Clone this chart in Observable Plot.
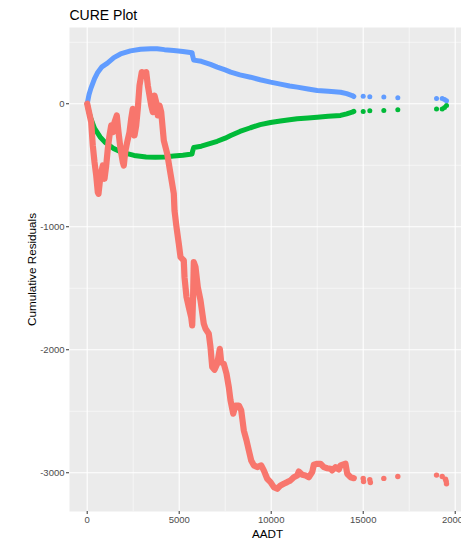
<!DOCTYPE html>
<html>
<head>
<meta charset="utf-8">
<script src="https://cdn.jsdelivr.net/npm/d3@7"></script>
<script src="https://cdn.jsdelivr.net/npm/@observablehq/plot@0.6"></script>
<style>
  html, body { margin: 0; padding: 0; background: #fff; overflow: hidden; }
  #chart { width: 461px; height: 542px; overflow: hidden; }
</style>
</head>
<body>
<div id="chart"></div>
<script>
// CURE plot: cumulative residuals of the model ordered by AADT, with the ±2σ bounds.

// Cumulative residuals, [AADT, cumulative residual] (dense stretch drawn as a path)
const residualPath = [
  [0,0],[217,-150],[304,-339],[397,-475],[489,-583],[576,-719],[614,-732],[723,-583],
  [848,-502],[940,-610],[1033,-502],[1120,-366],[1212,-258],[1304,-176],[1391,-231],
  [1484,-150],[1609,-95],[1701,-231],[1810,-366],[1935,-475],[1989,-502],[2065,-393],
  [2174,-312],[2299,-231],[2391,-122],[2478,-41],[2571,-258],[2663,-176],[2750,-41],
  [2842,149],[2967,257],[3087,250],[3207,257],[3294,149],[3386,67],[3478,-14],[3565,-68],
  [3658,67],[3750,13],[3837,-95],[3930,-14],[4022,-68],[4163,-298],[4348,-407],[4527,-569],
  [4707,-732],[4745,-868],[4853,-1003],[4978,-1138],[5071,-1247],[5250,-1274],[5288,-1410],
  [5397,-1572],[5522,-1654],[5652,-1735],[5707,-1802],[5750,-1599],[5794,-1288],[5886,-1328],
  [6011,-1491],[6158,-1599],[6337,-1789],[6430,-1829],[6609,-1870],[6701,-1979],[6794,-2141],
  [6919,-2163],[7066,-2114],[7207,-1992],[7283,-2101],[7424,-2114],[7571,-2195],[7696,-2304],
  [7788,-2412],[7935,-2520],[8060,-2453],[8240,-2453],[8370,-2493],[8511,-2656],[8658,-2737],
  [8783,-2818],[8913,-2900],[9055,-2940],[9240,-2954],[9457,-2940],[9598,-2981],[9783,-3049],
  [9962,-3076],[10142,-3117],[10327,-3130],[10506,-3103],[10685,-3089],[10870,-3076],
  [11049,-3062],[11229,-3036],[11414,-3022],[11501,-2990],[11685,-3016],[11865,-3022],
  [12044,-3036],[12229,-2995],[12316,-2935],[12500,-2927],[12680,-2927],[12859,-2954],
  [13044,-2963],[13223,-2968],[13316,-2981],[13495,-2954],[13675,-2973],[13767,-2940],
  [14038,-2927],[14131,-3008],[14310,-3036],[14490,-3044]
];
// Sparse high-AADT sites, drawn as single points
const residualTail = [
  [15000,-3046],[15020,-3071],[15359,-3057],[15390,-3079],[16120,-3046],[16881,-3030],
  [18985,-3019],[19294,-3030],[19473,-3052],[19510,-3070],[19527,-3090]
];

// Upper bound (+2σ)
const upperPath = [
  [0,0],[100,75],[200,125],[400,205],[550,250],[800,300],[1100,330],[1450,375],[1810,405],
  [2350,430],[2900,443],[3450,447],[3800,447],[4200,440],[4700,433],[5200,425],[5700,415],
  [5720,395],[5790,355],[6200,345],[6700,320],[7066,298],[7500,275],[7800,257],[8300,235],
  [8875,216],[9400,195],[9962,176],[10500,160],[11000,145],[11414,135],[12000,120],
  [12500,108],[13100,102],[13767,94],[14100,82],[14400,67],[14490,59]
];
const upperTail = [
  [15000,62],[15359,57],[16120,54],[16881,49],[18985,43],[19294,42],[19420,35],[19527,25]
];

// Lower bound (−2σ)
const lowerPath = [
  [0,0],[100,-70],[200,-120],[400,-200],[700,-270],[950,-310],[1450,-365],[1900,-395],
  [2550,-420],[3200,-432],[3700,-435],[4200,-432],[4700,-425],[5200,-418],[5700,-408],
  [5720,-390],[5790,-355],[6200,-345],[6700,-322],[7066,-305],[7500,-280],[7800,-258],
  [8300,-225],[8875,-195],[9400,-170],[9962,-152],[10500,-140],[11000,-130],[11414,-122],
  [12000,-115],[12500,-109],[13100,-102],[13767,-95],[14100,-82],[14400,-68],[14490,-62]
];
const lowerTail = [
  [15000,-62],[15359,-57],[16120,-54],[16881,-49],[18985,-43],[19294,-42],[19420,-30],[19527,-15]
];

// Axis ticks
const xTicks = [0, 5000, 10000, 15000, 20000];
const xMinor = [2500, 7500, 12500, 17500];
const yTicks = [0, -1000, -2000, -3000];
const yMinor = [500, -500, -1500, -2500];

const RED = "#F8766D", GREEN = "#00BA38", BLUE = "#619CFF";
const fontFamily = "'Liberation Sans', Arial, Helvetica, sans-serif";

const pathStyle = {strokeLinecap: "round", strokeLinejoin: "round"};

const chart = Plot.plot({
  width: 461,
  height: 542,
  marginTop: 27,
  marginBottom: 31,
  marginLeft: 69,
  marginRight: 0,
  x: {domain: [-962, 20342]},
  y: {domain: [-3315, 620]},
  style: {fontFamily, background: "#ffffff", color: "#000"},
  marks: [
    Plot.frame({fill: "#EBEBEB", stroke: "none"}),
    Plot.gridX(xMinor, {stroke: "#ffffff", strokeOpacity: 1, strokeWidth: 0.55}),
    Plot.gridY(yMinor, {stroke: "#ffffff", strokeOpacity: 1, strokeWidth: 0.55}),
    Plot.gridX(xTicks, {stroke: "#ffffff", strokeOpacity: 1, strokeWidth: 1.1}),
    Plot.gridY(yTicks, {stroke: "#ffffff", strokeOpacity: 1, strokeWidth: 1.1}),

    Plot.line(lowerPath, {stroke: GREEN, strokeWidth: 5, ...pathStyle}),
    Plot.dot(lowerTail, {r: 2.5, fill: GREEN, stroke: "none"}),
    Plot.line(upperPath, {stroke: BLUE, strokeWidth: 5, ...pathStyle}),
    Plot.dot(upperTail, {r: 2.5, fill: BLUE, stroke: "none"}),
    Plot.line(residualPath, {stroke: RED, strokeWidth: 6.2, ...pathStyle}),
    Plot.dot(residualTail, {r: 2.7, fill: RED, stroke: "none"}),

    Plot.axisX(xTicks, {
      tickSize: 3, tickPadding: 2, fontSize: 9.5,
      stroke: "#333333", fill: "#4D4D4D",
      tickFormat: d => String(d), label: null
    }),
    Plot.axisY(yTicks, {
      tickSize: 3, tickPadding: 2, fontSize: 9.5,
      stroke: "#333333", fill: "#4D4D4D",
      tickFormat: d => String(d), label: null
    }),

    Plot.text(["CURE Plot"], {
      text: d => d, frameAnchor: "top-left", textAnchor: "start",
      lineAnchor: "bottom", dy: -8, fontSize: 14, fill: "#000"
    }),
    Plot.text(["AADT"], {
      text: d => d, frameAnchor: "bottom", textAnchor: "middle",
      lineAnchor: "bottom", dx: 2, dy: 26.5, fontSize: 11.7, fill: "#000"
    }),
    Plot.text(["Cumulative Residuals"], {
      text: d => d, frameAnchor: "left", textAnchor: "middle",
      lineAnchor: "middle", rotate: -90, dx: -37.5, fontSize: 11.7, fill: "#000"
    })
  ]
});

document.getElementById("chart").appendChild(chart);
</script>
</body>
</html>
